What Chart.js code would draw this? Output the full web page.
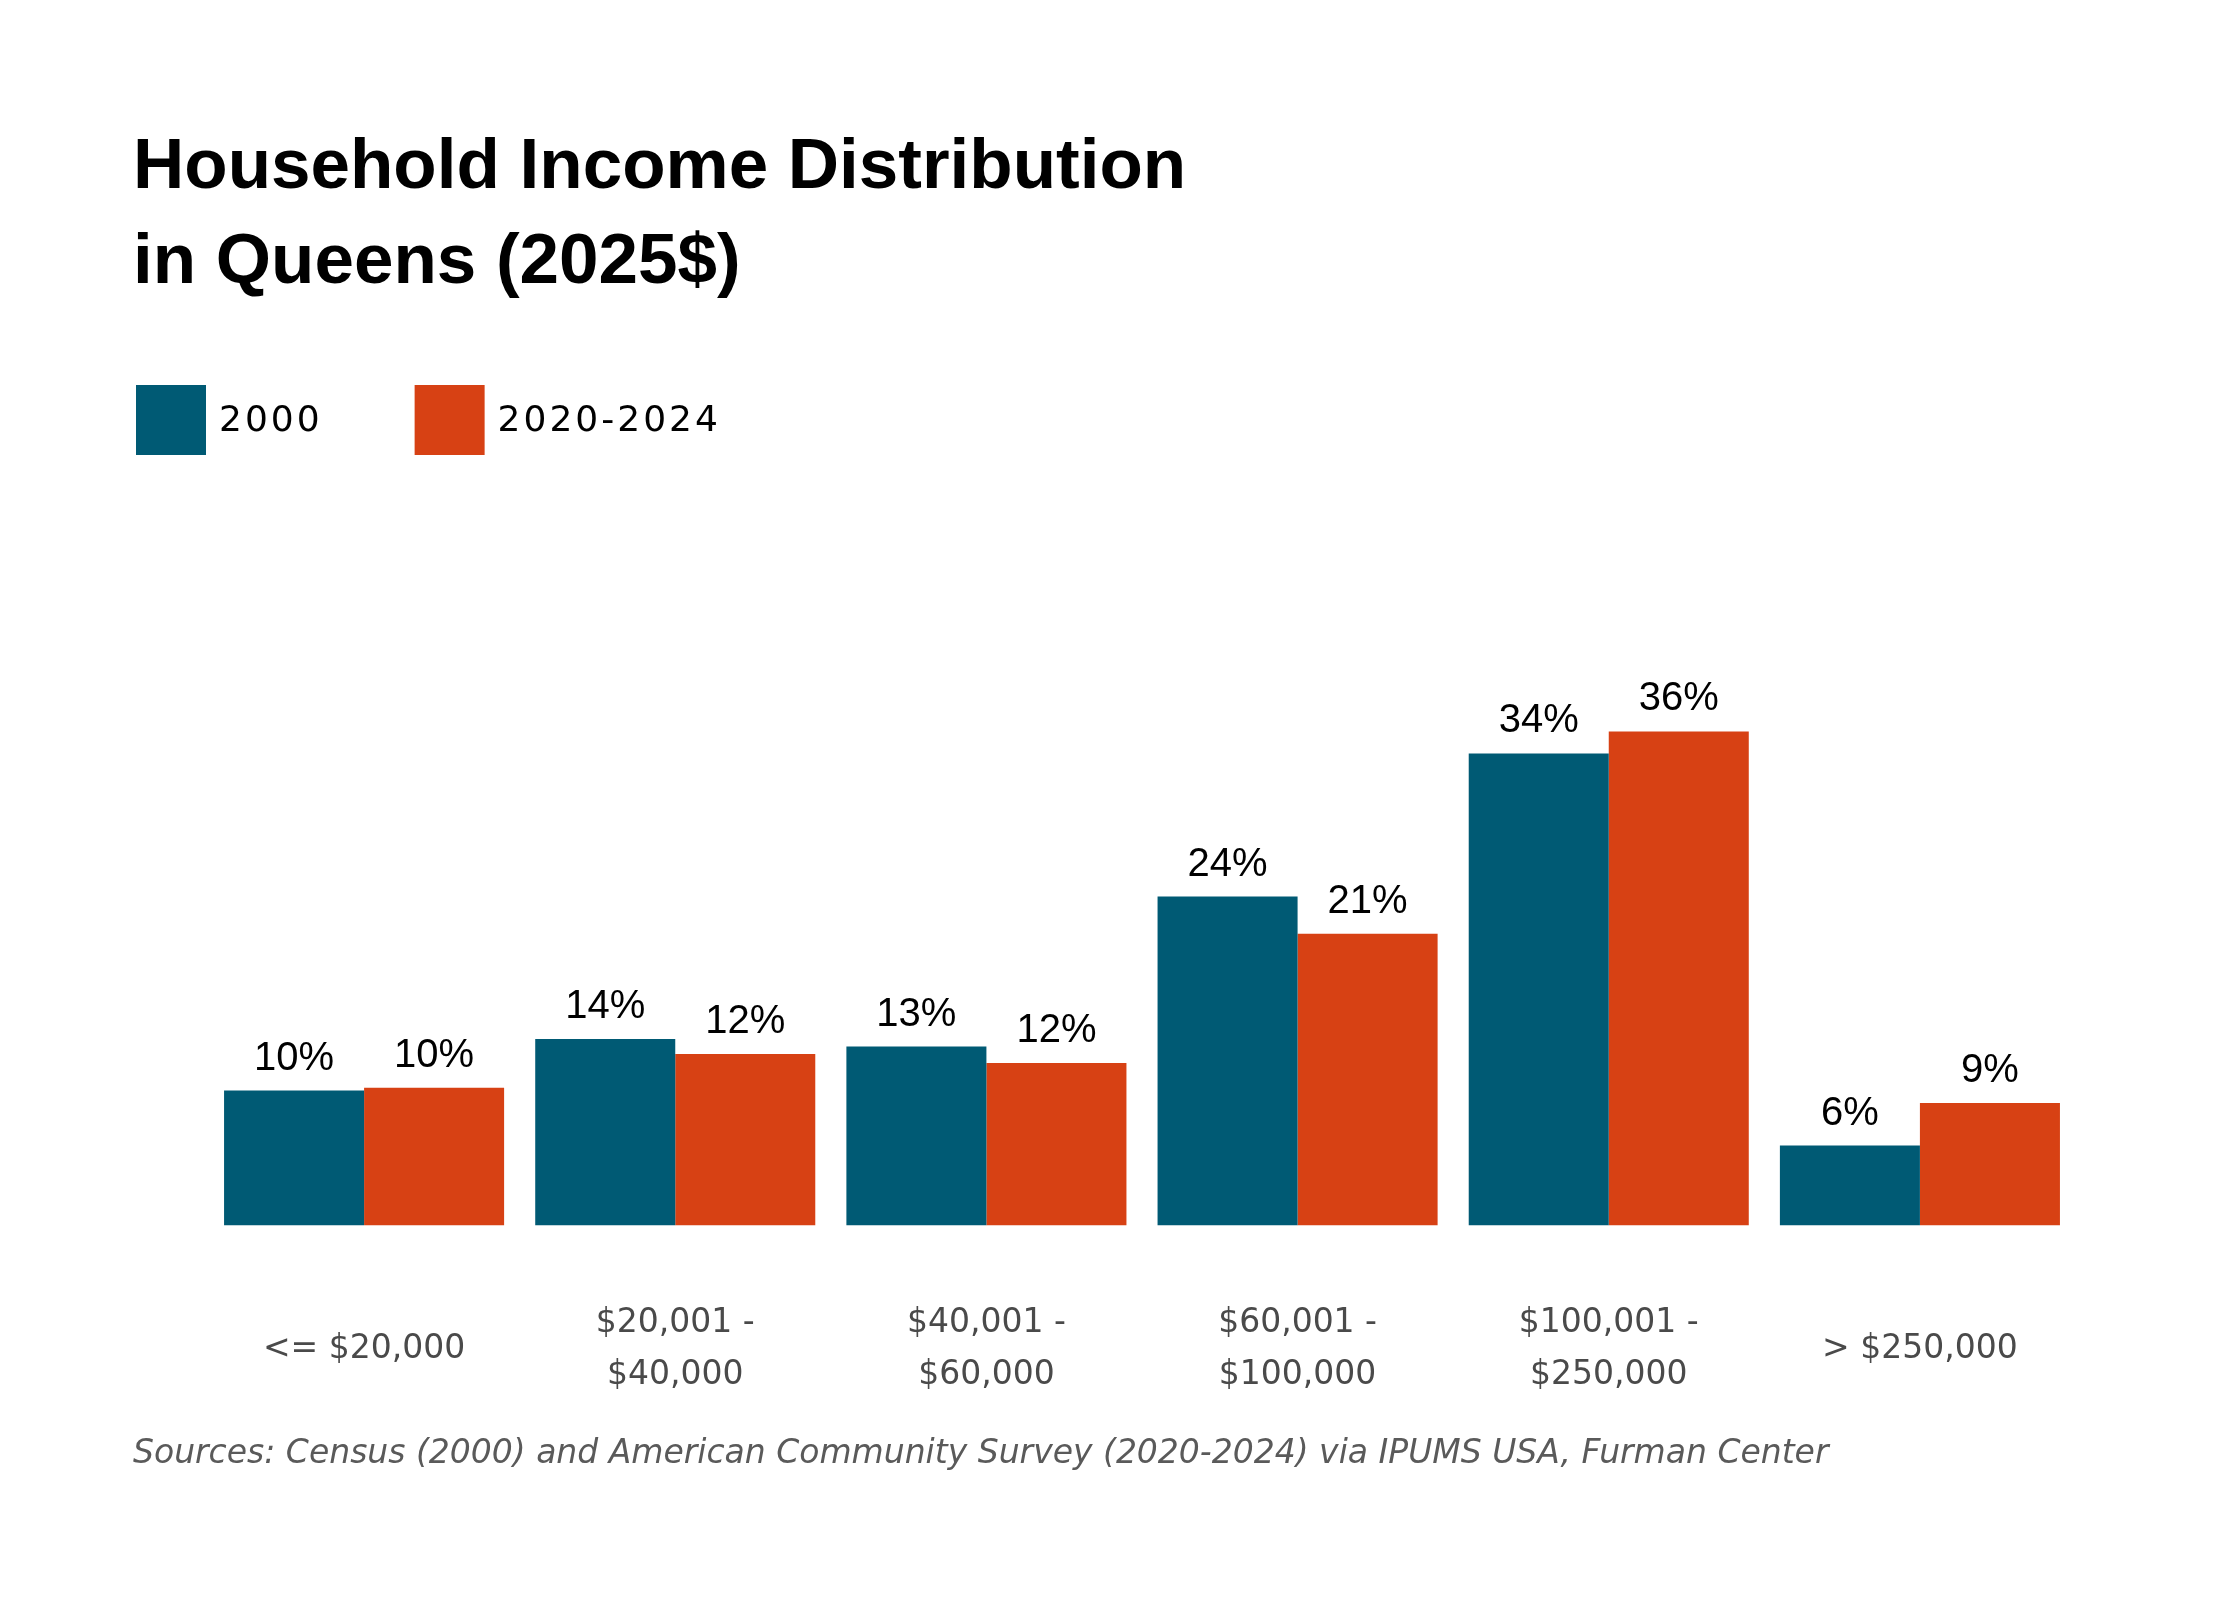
<!DOCTYPE html>
<html>
<head>
<meta charset="utf-8">
<title>Household Income Distribution in Queens</title>
<script src="https://cdn.jsdelivr.net/npm/chart.js@4"></script>
<style>
  html, body { margin: 0; padding: 0; background: #fff; }
  #wrap { width: 2240px; height: 1600px; position: relative; }
</style>
</head>
<body>
<div id="wrap"><canvas id="incomeChart"></canvas></div>
<script>
// income brackets (2025 dollars)
const categories = [
    '<= $20,000',
    ['$20,001 -', '$40,000'],
    ['$40,001 -', '$60,000'],
    ['$60,001 -', '$100,000'],
    ['$100,001 -', '$250,000'],
    '> $250,000'
];
const seriesNames = ['2000', '2020-2024'];
// share of households, percent
const values2000 = [9.8, 13.55, 13.0, 23.9, 34.3, 5.8];
const values2020 = [10.0, 12.45, 11.8, 21.2, 35.9, 8.9];
const titleLines = ['Household Income Distribution', 'in Queens (2025$)'];
const sourceNote = 'Sources: Census (2000) and American Community Survey (2020-2024) via IPUMS USA, Furman Center';

const BLUE = '#005A74';
const ORANGE = '#D74114';

// value labels above each bar
const barLabels = {
    id: 'barLabels',
    afterDatasetsDraw(chart) {
        const ctx = chart.ctx;
        ctx.save();
        ctx.font = '40px "Liberation Sans", Arial, sans-serif';
        ctx.fillStyle = '#000';
        ctx.textAlign = 'center';
        ctx.textBaseline = 'alphabetic';
        chart.data.datasets.forEach((ds, i) => {
            chart.getDatasetMeta(i).data.forEach((bar, j) => {
                ctx.fillText(Math.round(ds.data[j]) + '%', bar.x, bar.y - 21);
            });
        });
        ctx.restore();
    }
};

// square-swatch legend under the title
const squareLegend = {
    id: 'squareLegend',
    afterDraw(chart) {
        const ctx = chart.ctx;
        const box = 70;
        let x = 136;
        const top = 385;
        ctx.save();
        ctx.font = '36px "DejaVu Sans", sans-serif';
        ctx.letterSpacing = '3px';
        ctx.textBaseline = 'middle';
        ctx.textAlign = 'left';
        chart.data.datasets.forEach(ds => {
            ctx.fillStyle = ds.backgroundColor;
            ctx.fillRect(x, top, box, box);
            ctx.fillStyle = '#000';
            ctx.fillText(ds.label, x + box + 13, top + box / 2 + 2);
            x += box + 13 + ctx.measureText(ds.label).width + 92;
        });
        ctx.restore();
    }
};

const ctx = document.getElementById('incomeChart').getContext('2d');

new Chart(ctx, {
    type: 'bar',
    data: {
        labels: categories,
        datasets: [
            {
                label: seriesNames[0],
                data: values2000,
                backgroundColor: BLUE,
                borderWidth: 0
            },
            {
                label: seriesNames[1],
                data: values2020,
                backgroundColor: ORANGE,
                borderWidth: 0
            }
        ]
    },
    options: {
        responsive: true,
        maintainAspectRatio: false,
        devicePixelRatio: 1,
        animation: false,
        categoryPercentage: 0.9,
        barPercentage: 1.0,
        layout: {
            padding: { left: 133, right: 164.5, top: 0, bottom: 0 }
        },
        plugins: {
            legend: { display: false },
            tooltip: { enabled: false },
            title: {
                display: true,
                text: titleLines,
                align: 'start',
                color: '#000',
                font: { family: '"Liberation Sans", Arial, sans-serif', size: 71, weight: 'bold', lineHeight: 1.338 },
                padding: { top: 121, bottom: 364 }
            },
            subtitle: {
                display: true,
                position: 'bottom',
                align: 'start',
                text: sourceNote,
                color: '#5a5a5a',
                font: { family: '"DejaVu Sans", sans-serif', size: 33, style: 'italic', lineHeight: 1.2 },
                padding: { top: 19, bottom: 126 }
            }
        },
        scales: {
            x: {
                grid: { display: false, drawTicks: false },
                border: { display: false },
                ticks: {
                    color: '#4a4a4a',
                    font: { family: '"DejaVu Sans", sans-serif', size: 33, lineHeight: '52px' },
                    padding: 98,
                    crossAlign: 'center',
                    maxRotation: 0,
                    autoSkip: false
                },
                afterFit(scale) { scale.height = 190; }
            },
            y: {
                min: 0,
                max: 40,
                grid: { display: false, drawTicks: false },
                border: { display: false },
                ticks: { display: false },
                afterFit(scale) { scale.width = 75.5; }
            }
        }
    },
    plugins: [barLabels, squareLegend]
});
</script>
</body>
</html>
